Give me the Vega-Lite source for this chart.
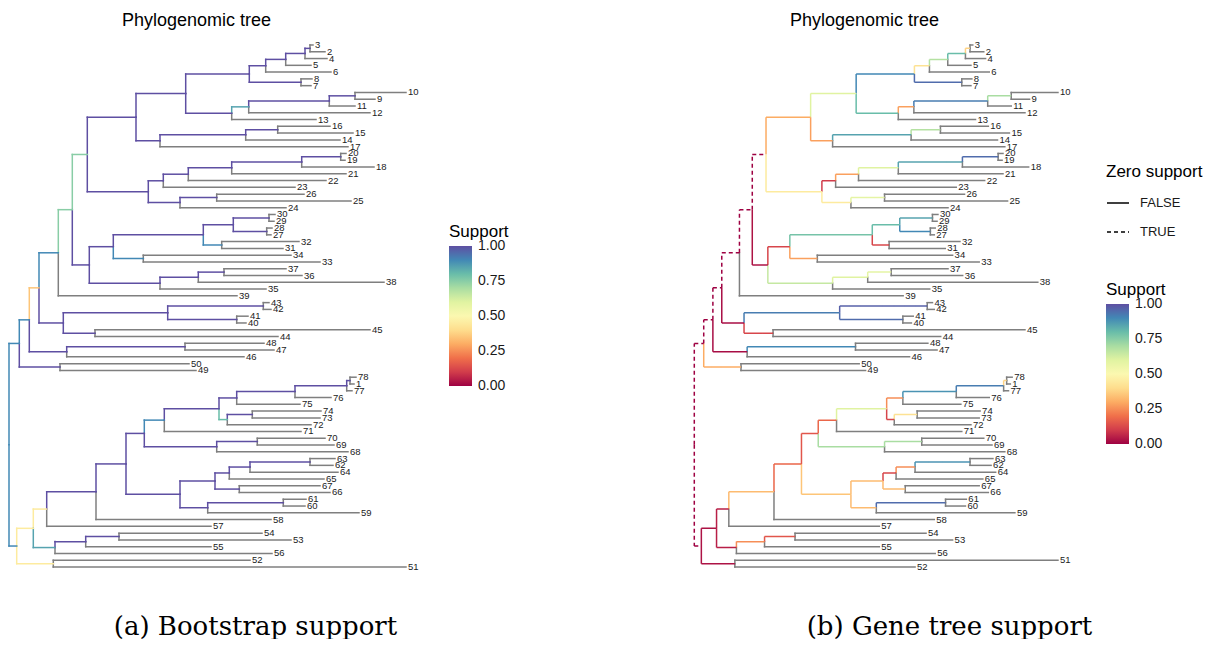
{
"$schema": "https://vega.github.io/schema/vega-lite/v6.json",
"padding": {"left": 0, "right": 0, "top": 12, "bottom": 0},
"config": {
  "view": {"stroke": null},
  "font": "Liberation Sans",
  "axisX": {"domain": false, "ticks": false, "labels": false, "grid": false, "titleFont": "DejaVu Serif", "titleFontSize": 26, "titleFontWeight": "normal", "titleColor": "#000000", "titlePadding": 37},
  "legend": {"titleFont": "Liberation Sans", "labelFont": "Liberation Sans", "titleFontWeight": "normal", "titleColor": "#000000", "labelColor": "#1a1a1a"}
},
"resolve": {"scale": {"color": "independent", "strokeDash": "independent", "x": "independent", "y": "independent"}, "legend": {"color": "independent", "strokeDash": "independent"}},
"datasets": {
"a": [
{"n":"nP","t":0,"x":10.3,"y":45.02,"px":0,"py":59.96,"s":0.9},
{"n":"nAA","t":0,"x":7.7,"y":74.9,"px":0,"py":59.96,"s":0.9},
{"n":"nN","t":0,"x":20.3,"y":41.54,"px":10.3,"py":45.02,"s":0.9},
{"n":"n5049","t":0,"x":51,"y":48.5,"px":10.3,"py":45.02,"s":1},
{"n":"nL","t":0,"x":30,"y":36.82,"px":20.3,"py":41.54,"s":0.35},
{"n":"nO","t":0,"x":57.7,"y":46.25,"px":20.3,"py":41.54,"s":1},
{"n":"nK","t":0,"x":49.3,"y":31.65,"px":30,"py":36.82,"s":0.9},
{"n":"nM","t":0,"x":54.3,"y":42,"px":30,"py":36.82,"s":1},
{"n":"nJ","t":0,"x":63.3,"y":25.29,"px":49.3,"py":31.65,"s":0.75},
{"n":"nE","t":0,"x":78.3,"y":17.15,"px":63.3,"py":25.29,"s":0.75},
{"n":"nF","t":0,"x":80.3,"y":33.44,"px":63.3,"py":25.29,"s":1},
{"n":"n136","t":0,"x":127,"y":11.65,"px":78.3,"py":17.15,"s":1},
{"n":"nD","t":0,"x":139.3,"y":22.64,"px":78.3,"py":17.15,"s":1},
{"n":"nAB","t":0,"x":176.7,"y":8.17,"px":127,"py":11.65,"s":1},
{"n":"nC","t":0,"x":151,"y":15.125,"px":127,"py":11.65,"s":1},
{"n":"nA","t":0,"x":240.3,"y":5.28,"px":176.7,"py":8.17,"s":1},
{"n":"nB","t":0,"x":222.7,"y":11.06,"px":176.7,"py":8.17,"s":1},
{"n":"n6","t":0,"x":256.7,"y":4.06,"px":240.3,"py":5.28,"s":1},
{"n":"n87","t":0,"x":292,"y":6.5,"px":240.3,"py":5.28,"s":1},
{"n":"n5","t":0,"x":276.7,"y":3.125,"px":256.7,"py":4.06,"s":1},
{"n":"n324","t":0,"x":296,"y":2.25,"px":276.7,"py":3.125,"s":1},
{"n":"n32","t":0,"x":301,"y":1.5,"px":296,"py":2.25,"s":1},
{"n":"n12","t":0,"x":239.7,"y":10.125,"px":222.7,"py":11.06,"s":0.85},
{"n":"n11","t":0,"x":320.3,"y":9.25,"px":239.7,"py":10.125,"s":1},
{"n":"n109","t":0,"x":346,"y":8.5,"px":320.3,"py":9.25,"s":1},
{"n":"n14","t":0,"x":236.7,"y":14.25,"px":151,"py":15.125,"s":1},
{"n":"n1615","t":0,"x":268.7,"y":13.5,"px":236.7,"py":14.25,"s":1},
{"n":"n23","t":0,"x":154.3,"y":21.03,"px":139.3,"py":22.64,"s":1},
{"n":"n24","t":0,"x":171,"y":24.25,"px":139.3,"py":22.64,"s":1},
{"n":"n22","t":0,"x":179.3,"y":20.06,"px":154.3,"py":21.03,"s":1},
{"n":"n21","t":0,"x":222.7,"y":19.125,"px":179.3,"py":20.06,"s":1},
{"n":"n18","t":0,"x":292.7,"y":18.25,"px":222.7,"py":19.125,"s":1},
{"n":"n2019","t":0,"x":331.7,"y":17.5,"px":292.7,"py":18.25,"s":1},
{"n":"n2625","t":0,"x":207.7,"y":23.5,"px":171,"py":24.25,"s":1},
{"n":"nH","t":0,"x":104.3,"y":30.75,"px":80.3,"py":33.44,"s":1},
{"n":"nI","t":0,"x":151,"y":36.125,"px":80.3,"py":33.44,"s":1},
{"n":"nG","t":0,"x":194.3,"y":29,"px":104.3,"py":30.75,"s":1},
{"n":"n3433","t":0,"x":134.3,"y":32.5,"px":104.3,"py":30.75,"s":0.9},
{"n":"n3027","t":0,"x":224.3,"y":27.5,"px":194.3,"py":29,"s":1},
{"n":"n3231","t":0,"x":212.7,"y":30.5,"px":194.3,"py":29,"s":0.9},
{"n":"n3029","t":0,"x":260,"y":26.5,"px":224.3,"py":27.5,"s":1},
{"n":"n2827","t":0,"x":257.7,"y":28.5,"px":224.3,"py":27.5,"s":1},
{"n":"n38","t":0,"x":189.3,"y":35.25,"px":151,"py":36.125,"s":1},
{"n":"n3736","t":0,"x":215,"y":34.5,"px":189.3,"py":35.25,"s":1},
{"n":"n4340","t":0,"x":158.7,"y":40.5,"px":54.3,"py":42,"s":1},
{"n":"n4544","t":0,"x":86,"y":43.5,"px":54.3,"py":42,"s":1},
{"n":"n4342","t":0,"x":254.3,"y":39.5,"px":158.7,"py":40.5,"s":1},
{"n":"n4140","t":0,"x":227.7,"y":41.5,"px":158.7,"py":40.5,"s":1},
{"n":"n4847","t":0,"x":176,"y":45.5,"px":57.7,"py":46.25,"s":1},
{"n":"nY","t":0,"x":24.3,"y":72.29,"px":7.7,"py":74.9,"s":0.45},
{"n":"n5251","t":0,"x":44.3,"y":77.5,"px":7.7,"py":74.9,"s":0.45},
{"n":"nX","t":0,"x":37.7,"y":69.45,"px":24.3,"py":72.29,"s":0.45},
{"n":"nZ","t":0,"x":46,"y":75.125,"px":24.3,"py":72.29,"s":0.85},
{"n":"nW","t":0,"x":87,"y":66.89,"px":37.7,"py":69.45,"s":1},
{"n":"n55","t":0,"x":76.7,"y":74.25,"px":46,"py":75.125,"s":1},
{"n":"n5453","t":0,"x":110,"y":73.5,"px":76.7,"py":74.25,"s":1},
{"n":"nV","t":0,"x":117,"y":62.79,"px":87,"py":66.89,"s":1},
{"n":"nS","t":0,"x":135.3,"y":58.29,"px":117,"py":62.79,"s":1},
{"n":"nU","t":0,"x":171,"y":67.28,"px":117,"py":62.79,"s":1},
{"n":"nR","t":0,"x":155.3,"y":56.33,"px":135.3,"py":58.29,"s":0.9},
{"n":"n68","t":0,"x":207.7,"y":60.25,"px":135.3,"py":58.29,"s":1},
{"n":"n7069","t":0,"x":248.3,"y":59.5,"px":207.7,"py":60.25,"s":1},
{"n":"nQ","t":0,"x":210,"y":54.66,"px":155.3,"py":56.33,"s":1},
{"n":"n75","t":0,"x":227.7,"y":53.06,"px":210,"py":54.66,"s":1},
{"n":"n72","t":0,"x":218.3,"y":56.25,"px":210,"py":54.66,"s":0.8},
{"n":"n7473","t":0,"x":243.3,"y":55.5,"px":218.3,"py":56.25,"s":1},
{"n":"n76","t":0,"x":286,"y":52.125,"px":227.7,"py":53.06,"s":1},
{"n":"n77","t":0,"x":337.7,"y":51.25,"px":286,"py":52.125,"s":1},
{"n":"n781","t":0,"x":341,"y":50.5,"px":337.7,"py":51.25,"s":1},
{"n":"nT","t":0,"x":206,"y":65.31,"px":171,"py":67.28,"s":1},
{"n":"n59","t":0,"x":198.7,"y":69.25,"px":171,"py":67.28,"s":1},
{"n":"n65","t":0,"x":220.3,"y":64.125,"px":206,"py":65.31,"s":1},
{"n":"n6766","t":0,"x":230.3,"y":66.5,"px":206,"py":65.31,"s":1},
{"n":"n64","t":0,"x":241,"y":63.25,"px":220.3,"py":64.125,"s":1},
{"n":"n6362","t":0,"x":301,"y":62.5,"px":241,"py":63.25,"s":1},
{"n":"n6160","t":0,"x":274.3,"y":68.5,"px":198.7,"py":69.25,"s":1},
{"n":"3","t":1,"x":304,"y":1,"px":301,"py":1.5},
{"n":"2","t":1,"x":316,"y":2,"px":301,"py":1.5},
{"n":"4","t":1,"x":318,"y":3,"px":296,"py":2.25},
{"n":"5","t":1,"x":302,"y":4,"px":276.7,"py":3.125},
{"n":"6","t":1,"x":322,"y":5,"px":256.7,"py":4.06},
{"n":"8","t":1,"x":303,"y":6,"px":292,"py":6.5},
{"n":"7","t":1,"x":302,"y":7,"px":292,"py":6.5},
{"n":"10","t":1,"x":397,"y":8,"px":346,"py":8.5},
{"n":"9","t":1,"x":366,"y":9,"px":346,"py":8.5},
{"n":"11","t":1,"x":346,"y":10,"px":320.3,"py":9.25},
{"n":"12","t":1,"x":361,"y":11,"px":239.7,"py":10.125},
{"n":"13","t":1,"x":307,"y":12,"px":222.7,"py":11.06},
{"n":"16","t":1,"x":321,"y":13,"px":268.7,"py":13.5},
{"n":"15","t":1,"x":344,"y":14,"px":268.7,"py":13.5},
{"n":"14","t":1,"x":331,"y":15,"px":236.7,"py":14.25},
{"n":"17","t":1,"x":339,"y":16,"px":151,"py":15.125},
{"n":"20","t":1,"x":337,"y":17,"px":331.7,"py":17.5},
{"n":"19","t":1,"x":336,"y":18,"px":331.7,"py":17.5},
{"n":"18","t":1,"x":365,"y":19,"px":292.7,"py":18.25},
{"n":"21","t":1,"x":337,"y":20,"px":222.7,"py":19.125},
{"n":"22","t":1,"x":317,"y":21,"px":179.3,"py":20.06},
{"n":"23","t":1,"x":286,"y":22,"px":154.3,"py":21.03},
{"n":"26","t":1,"x":295,"y":23,"px":207.7,"py":23.5},
{"n":"25","t":1,"x":342,"y":24,"px":207.7,"py":23.5},
{"n":"24","t":1,"x":277,"y":25,"px":171,"py":24.25},
{"n":"30","t":1,"x":266,"y":26,"px":260,"py":26.5},
{"n":"29","t":1,"x":265,"y":27,"px":260,"py":26.5},
{"n":"28","t":1,"x":263,"y":28,"px":257.7,"py":28.5},
{"n":"27","t":1,"x":262,"y":29,"px":257.7,"py":28.5},
{"n":"32","t":1,"x":290,"y":30,"px":212.7,"py":30.5},
{"n":"31","t":1,"x":274,"y":31,"px":212.7,"py":30.5},
{"n":"34","t":1,"x":282,"y":32,"px":134.3,"py":32.5},
{"n":"33","t":1,"x":311,"y":33,"px":134.3,"py":32.5},
{"n":"37","t":1,"x":277,"y":34,"px":215,"py":34.5},
{"n":"36","t":1,"x":293,"y":35,"px":215,"py":34.5},
{"n":"38","t":1,"x":375,"y":36,"px":189.3,"py":35.25},
{"n":"35","t":1,"x":257,"y":37,"px":151,"py":36.125},
{"n":"39","t":1,"x":228,"y":38,"px":49.3,"py":31.65},
{"n":"43","t":1,"x":260,"y":39,"px":254.3,"py":39.5},
{"n":"42","t":1,"x":262,"y":40,"px":254.3,"py":39.5},
{"n":"41","t":1,"x":239,"y":41,"px":227.7,"py":41.5},
{"n":"40","t":1,"x":237,"y":42,"px":227.7,"py":41.5},
{"n":"45","t":1,"x":361,"y":43,"px":86,"py":43.5},
{"n":"44","t":1,"x":269,"y":44,"px":86,"py":43.5},
{"n":"48","t":1,"x":255,"y":45,"px":176,"py":45.5},
{"n":"47","t":1,"x":265,"y":46,"px":176,"py":45.5},
{"n":"46","t":1,"x":235,"y":47,"px":57.7,"py":46.25},
{"n":"50","t":1,"x":180,"y":48,"px":51,"py":48.5},
{"n":"49","t":1,"x":187,"y":49,"px":51,"py":48.5},
{"n":"78","t":1,"x":347,"y":50,"px":341,"py":50.5},
{"n":"1","t":1,"x":345,"y":51,"px":341,"py":50.5},
{"n":"77","t":1,"x":343,"y":52,"px":337.7,"py":51.25},
{"n":"76","t":1,"x":322,"y":53,"px":286,"py":52.125},
{"n":"75","t":1,"x":291,"y":54,"px":227.7,"py":53.06},
{"n":"74","t":1,"x":312,"y":55,"px":243.3,"py":55.5},
{"n":"73","t":1,"x":311,"y":56,"px":243.3,"py":55.5},
{"n":"72","t":1,"x":302,"y":57,"px":218.3,"py":56.25},
{"n":"71","t":1,"x":292,"y":58,"px":155.3,"py":56.33},
{"n":"70","t":1,"x":316,"y":59,"px":248.3,"py":59.5},
{"n":"69","t":1,"x":325,"y":60,"px":248.3,"py":59.5},
{"n":"68","t":1,"x":339,"y":61,"px":207.7,"py":60.25},
{"n":"63","t":1,"x":326,"y":62,"px":301,"py":62.5},
{"n":"62","t":1,"x":324,"y":63,"px":301,"py":62.5},
{"n":"64","t":1,"x":329,"y":64,"px":241,"py":63.25},
{"n":"65","t":1,"x":315,"y":65,"px":220.3,"py":64.125},
{"n":"67","t":1,"x":311,"y":66,"px":230.3,"py":66.5},
{"n":"66","t":1,"x":321,"y":67,"px":230.3,"py":66.5},
{"n":"61","t":1,"x":297,"y":68,"px":274.3,"py":68.5},
{"n":"60","t":1,"x":296,"y":69,"px":274.3,"py":68.5},
{"n":"59","t":1,"x":350,"y":70,"px":198.7,"py":69.25},
{"n":"58","t":1,"x":262,"y":71,"px":87,"py":66.89},
{"n":"57","t":1,"x":202,"y":72,"px":37.7,"py":69.45},
{"n":"54","t":1,"x":253,"y":73,"px":110,"py":73.5},
{"n":"53","t":1,"x":282,"y":74,"px":110,"py":73.5},
{"n":"55","t":1,"x":202,"y":75,"px":76.7,"py":74.25},
{"n":"56","t":1,"x":263,"y":76,"px":46,"py":75.125},
{"n":"52","t":1,"x":241,"y":77,"px":44.3,"py":77.5},
{"n":"51","t":1,"x":397,"y":78,"px":44.3,"py":77.5}
],
"b": [
{"n":"nP","t":0,"x":10.3,"y":45.02,"px":0,"py":59.96,"s":0,"z":"TRUE"},
{"n":"nAA","t":0,"x":7.7,"y":74.9,"px":0,"py":59.96,"s":0,"z":"TRUE"},
{"n":"nN","t":0,"x":20.3,"y":41.54,"px":10.3,"py":45.02,"s":0,"z":"TRUE"},
{"n":"n5049","t":0,"x":51,"y":48.5,"px":10.3,"py":45.02,"s":0.3,"z":"FALSE"},
{"n":"nL","t":0,"x":30,"y":36.82,"px":20.3,"py":41.54,"s":0,"z":"TRUE"},
{"n":"nO","t":0,"x":57.7,"y":46.25,"px":20.3,"py":41.54,"s":0.02,"z":"FALSE"},
{"n":"nK","t":0,"x":49.3,"y":31.65,"px":30,"py":36.82,"s":0,"z":"TRUE"},
{"n":"nM","t":0,"x":54.3,"y":42,"px":30,"py":36.82,"s":0.02,"z":"FALSE"},
{"n":"nJ","t":0,"x":63.3,"y":25.29,"px":49.3,"py":31.65,"s":0,"z":"TRUE"},
{"n":"nE","t":0,"x":78.3,"y":17.15,"px":63.3,"py":25.29,"s":0,"z":"TRUE"},
{"n":"nF","t":0,"x":80.3,"y":33.44,"px":63.3,"py":25.29,"s":0.03,"z":"FALSE"},
{"n":"n136","t":0,"x":127,"y":11.65,"px":78.3,"py":17.15,"s":0.3,"z":"FALSE"},
{"n":"nD","t":0,"x":139.3,"y":22.64,"px":78.3,"py":17.15,"s":0.45,"z":"FALSE"},
{"n":"nAB","t":0,"x":176.7,"y":8.17,"px":127,"py":11.65,"s":0.6,"z":"FALSE"},
{"n":"nC","t":0,"x":151,"y":15.125,"px":127,"py":11.65,"s":0.28,"z":"FALSE"},
{"n":"nA","t":0,"x":240.3,"y":5.28,"px":176.7,"py":8.17,"s":0.9,"z":"FALSE"},
{"n":"nB","t":0,"x":222.7,"y":11.06,"px":176.7,"py":8.17,"s":0.8,"z":"FALSE"},
{"n":"n6","t":0,"x":256.7,"y":4.06,"px":240.3,"py":5.28,"s":0.42,"z":"FALSE"},
{"n":"n87","t":0,"x":292,"y":6.5,"px":240.3,"py":5.28,"s":0.95,"z":"FALSE"},
{"n":"n5","t":0,"x":276.7,"y":3.125,"px":256.7,"py":4.06,"s":0.68,"z":"FALSE"},
{"n":"n324","t":0,"x":296,"y":2.25,"px":276.7,"py":3.125,"s":0.8,"z":"FALSE"},
{"n":"n32","t":0,"x":301,"y":1.5,"px":296,"py":2.25,"s":0.38,"z":"FALSE"},
{"n":"n12","t":0,"x":239.7,"y":10.125,"px":222.7,"py":11.06,"s":0.28,"z":"FALSE"},
{"n":"n11","t":0,"x":320.3,"y":9.25,"px":239.7,"py":10.125,"s":0.92,"z":"FALSE"},
{"n":"n109","t":0,"x":346,"y":8.5,"px":320.3,"py":9.25,"s":0.7,"z":"FALSE"},
{"n":"n14","t":0,"x":236.7,"y":14.25,"px":151,"py":15.125,"s":0.85,"z":"FALSE"},
{"n":"n1615","t":0,"x":268.7,"y":13.5,"px":236.7,"py":14.25,"s":0.68,"z":"FALSE"},
{"n":"n23","t":0,"x":154.3,"y":21.03,"px":139.3,"py":22.64,"s":0.1,"z":"FALSE"},
{"n":"n24","t":0,"x":171,"y":24.25,"px":139.3,"py":22.64,"s":0.45,"z":"FALSE"},
{"n":"n22","t":0,"x":179.3,"y":20.06,"px":154.3,"py":21.03,"s":0.28,"z":"FALSE"},
{"n":"n21","t":0,"x":222.7,"y":19.125,"px":179.3,"py":20.06,"s":0.6,"z":"FALSE"},
{"n":"n18","t":0,"x":292.7,"y":18.25,"px":222.7,"py":19.125,"s":0.85,"z":"FALSE"},
{"n":"n2019","t":0,"x":331.7,"y":17.5,"px":292.7,"py":18.25,"s":0.95,"z":"FALSE"},
{"n":"n2625","t":0,"x":207.7,"y":23.5,"px":171,"py":24.25,"s":0.58,"z":"FALSE"},
{"n":"nH","t":0,"x":104.3,"y":30.75,"px":80.3,"py":33.44,"s":0.12,"z":"FALSE"},
{"n":"nI","t":0,"x":151,"y":36.125,"px":80.3,"py":33.44,"s":0.65,"z":"FALSE"},
{"n":"nG","t":0,"x":194.3,"y":29,"px":104.3,"py":30.75,"s":0.78,"z":"FALSE"},
{"n":"n3433","t":0,"x":134.3,"y":32.5,"px":104.3,"py":30.75,"s":0.28,"z":"FALSE"},
{"n":"n3027","t":0,"x":224.3,"y":27.5,"px":194.3,"py":29,"s":0.8,"z":"FALSE"},
{"n":"n3231","t":0,"x":212.7,"y":30.5,"px":194.3,"py":29,"s":0.12,"z":"FALSE"},
{"n":"n3029","t":0,"x":260,"y":26.5,"px":224.3,"py":27.5,"s":0.85,"z":"FALSE"},
{"n":"n2827","t":0,"x":257.7,"y":28.5,"px":224.3,"py":27.5,"s":0.9,"z":"FALSE"},
{"n":"n38","t":0,"x":189.3,"y":35.25,"px":151,"py":36.125,"s":0.6,"z":"FALSE"},
{"n":"n3736","t":0,"x":215,"y":34.5,"px":189.3,"py":35.25,"s":0.58,"z":"FALSE"},
{"n":"n4340","t":0,"x":158.7,"y":40.5,"px":54.3,"py":42,"s":0.92,"z":"FALSE"},
{"n":"n4544","t":0,"x":86,"y":43.5,"px":54.3,"py":42,"s":0.12,"z":"FALSE"},
{"n":"n4342","t":0,"x":254.3,"y":39.5,"px":158.7,"py":40.5,"s":0.97,"z":"FALSE"},
{"n":"n4140","t":0,"x":227.7,"y":41.5,"px":158.7,"py":40.5,"s":0.95,"z":"FALSE"},
{"n":"n4847","t":0,"x":176,"y":45.5,"px":57.7,"py":46.25,"s":0.9,"z":"FALSE"},
{"n":"nY","t":0,"x":24.3,"y":72.29,"px":7.7,"py":74.9,"s":0.03,"z":"FALSE"},
{"n":"n5251","t":0,"x":44.3,"y":77.5,"px":7.7,"py":74.9,"s":0.03,"z":"FALSE"},
{"n":"nX","t":0,"x":37.7,"y":69.45,"px":24.3,"py":72.29,"s":0.05,"z":"FALSE"},
{"n":"nZ","t":0,"x":46,"y":75.125,"px":24.3,"py":72.29,"s":0.05,"z":"FALSE"},
{"n":"nW","t":0,"x":87,"y":66.89,"px":37.7,"py":69.45,"s":0.33,"z":"FALSE"},
{"n":"n55","t":0,"x":76.7,"y":74.25,"px":46,"py":75.125,"s":0.25,"z":"FALSE"},
{"n":"n5453","t":0,"x":110,"y":73.5,"px":76.7,"py":74.25,"s":0.15,"z":"FALSE"},
{"n":"nV","t":0,"x":117,"y":62.79,"px":87,"py":66.89,"s":0.18,"z":"FALSE"},
{"n":"nS","t":0,"x":135.3,"y":58.29,"px":117,"py":62.79,"s":0.15,"z":"FALSE"},
{"n":"nU","t":0,"x":171,"y":67.28,"px":117,"py":62.79,"s":0.35,"z":"FALSE"},
{"n":"nR","t":0,"x":155.3,"y":56.33,"px":135.3,"py":58.29,"s":0.18,"z":"FALSE"},
{"n":"n68","t":0,"x":207.7,"y":60.25,"px":135.3,"py":58.29,"s":0.7,"z":"FALSE"},
{"n":"n7069","t":0,"x":248.3,"y":59.5,"px":207.7,"py":60.25,"s":0.7,"z":"FALSE"},
{"n":"nQ","t":0,"x":210,"y":54.66,"px":155.3,"py":56.33,"s":0.6,"z":"FALSE"},
{"n":"n75","t":0,"x":227.7,"y":53.06,"px":210,"py":54.66,"s":0.25,"z":"FALSE"},
{"n":"n72","t":0,"x":218.3,"y":56.25,"px":210,"py":54.66,"s":0.12,"z":"FALSE"},
{"n":"n7473","t":0,"x":243.3,"y":55.5,"px":218.3,"py":56.25,"s":0.42,"z":"FALSE"},
{"n":"n76","t":0,"x":286,"y":52.125,"px":227.7,"py":53.06,"s":0.88,"z":"FALSE"},
{"n":"n77","t":0,"x":337.7,"y":51.25,"px":286,"py":52.125,"s":0.92,"z":"FALSE"},
{"n":"n781","t":0,"x":341,"y":50.5,"px":337.7,"py":51.25,"s":0.38,"z":"FALSE"},
{"n":"nT","t":0,"x":206,"y":65.31,"px":171,"py":67.28,"s":0.33,"z":"FALSE"},
{"n":"n59","t":0,"x":198.7,"y":69.25,"px":171,"py":67.28,"s":0.33,"z":"FALSE"},
{"n":"n65","t":0,"x":220.3,"y":64.125,"px":206,"py":65.31,"s":0.12,"z":"FALSE"},
{"n":"n6766","t":0,"x":230.3,"y":66.5,"px":206,"py":65.31,"s":0.33,"z":"FALSE"},
{"n":"n64","t":0,"x":241,"y":63.25,"px":220.3,"py":64.125,"s":0.25,"z":"FALSE"},
{"n":"n6362","t":0,"x":301,"y":62.5,"px":241,"py":63.25,"s":0.88,"z":"FALSE"},
{"n":"n6160","t":0,"x":274.3,"y":68.5,"px":198.7,"py":69.25,"s":0.95,"z":"FALSE"},
{"n":"3","t":1,"x":304,"y":1,"px":301,"py":1.5},
{"n":"2","t":1,"x":316,"y":2,"px":301,"py":1.5},
{"n":"4","t":1,"x":318,"y":3,"px":296,"py":2.25},
{"n":"5","t":1,"x":302,"y":4,"px":276.7,"py":3.125},
{"n":"6","t":1,"x":322,"y":5,"px":256.7,"py":4.06},
{"n":"8","t":1,"x":303,"y":6,"px":292,"py":6.5},
{"n":"7","t":1,"x":302,"y":7,"px":292,"py":6.5},
{"n":"10","t":1,"x":397,"y":8,"px":346,"py":8.5},
{"n":"9","t":1,"x":366,"y":9,"px":346,"py":8.5},
{"n":"11","t":1,"x":346,"y":10,"px":320.3,"py":9.25},
{"n":"12","t":1,"x":361,"y":11,"px":239.7,"py":10.125},
{"n":"13","t":1,"x":307,"y":12,"px":222.7,"py":11.06},
{"n":"16","t":1,"x":321,"y":13,"px":268.7,"py":13.5},
{"n":"15","t":1,"x":344,"y":14,"px":268.7,"py":13.5},
{"n":"14","t":1,"x":331,"y":15,"px":236.7,"py":14.25},
{"n":"17","t":1,"x":339,"y":16,"px":151,"py":15.125},
{"n":"20","t":1,"x":337,"y":17,"px":331.7,"py":17.5},
{"n":"19","t":1,"x":336,"y":18,"px":331.7,"py":17.5},
{"n":"18","t":1,"x":365,"y":19,"px":292.7,"py":18.25},
{"n":"21","t":1,"x":337,"y":20,"px":222.7,"py":19.125},
{"n":"22","t":1,"x":317,"y":21,"px":179.3,"py":20.06},
{"n":"23","t":1,"x":286,"y":22,"px":154.3,"py":21.03},
{"n":"26","t":1,"x":295,"y":23,"px":207.7,"py":23.5},
{"n":"25","t":1,"x":342,"y":24,"px":207.7,"py":23.5},
{"n":"24","t":1,"x":277,"y":25,"px":171,"py":24.25},
{"n":"30","t":1,"x":266,"y":26,"px":260,"py":26.5},
{"n":"29","t":1,"x":265,"y":27,"px":260,"py":26.5},
{"n":"28","t":1,"x":263,"y":28,"px":257.7,"py":28.5},
{"n":"27","t":1,"x":262,"y":29,"px":257.7,"py":28.5},
{"n":"32","t":1,"x":290,"y":30,"px":212.7,"py":30.5},
{"n":"31","t":1,"x":274,"y":31,"px":212.7,"py":30.5},
{"n":"34","t":1,"x":282,"y":32,"px":134.3,"py":32.5},
{"n":"33","t":1,"x":311,"y":33,"px":134.3,"py":32.5},
{"n":"37","t":1,"x":277,"y":34,"px":215,"py":34.5},
{"n":"36","t":1,"x":293,"y":35,"px":215,"py":34.5},
{"n":"38","t":1,"x":375,"y":36,"px":189.3,"py":35.25},
{"n":"35","t":1,"x":257,"y":37,"px":151,"py":36.125},
{"n":"39","t":1,"x":228,"y":38,"px":49.3,"py":31.65},
{"n":"43","t":1,"x":260,"y":39,"px":254.3,"py":39.5},
{"n":"42","t":1,"x":262,"y":40,"px":254.3,"py":39.5},
{"n":"41","t":1,"x":239,"y":41,"px":227.7,"py":41.5},
{"n":"40","t":1,"x":237,"y":42,"px":227.7,"py":41.5},
{"n":"45","t":1,"x":361,"y":43,"px":86,"py":43.5},
{"n":"44","t":1,"x":269,"y":44,"px":86,"py":43.5},
{"n":"48","t":1,"x":255,"y":45,"px":176,"py":45.5},
{"n":"47","t":1,"x":265,"y":46,"px":176,"py":45.5},
{"n":"46","t":1,"x":235,"y":47,"px":57.7,"py":46.25},
{"n":"50","t":1,"x":180,"y":48,"px":51,"py":48.5},
{"n":"49","t":1,"x":187,"y":49,"px":51,"py":48.5},
{"n":"78","t":1,"x":347,"y":50,"px":341,"py":50.5},
{"n":"1","t":1,"x":345,"y":51,"px":341,"py":50.5},
{"n":"77","t":1,"x":343,"y":52,"px":337.7,"py":51.25},
{"n":"76","t":1,"x":322,"y":53,"px":286,"py":52.125},
{"n":"75","t":1,"x":291,"y":54,"px":227.7,"py":53.06},
{"n":"74","t":1,"x":312,"y":55,"px":243.3,"py":55.5},
{"n":"73","t":1,"x":311,"y":56,"px":243.3,"py":55.5},
{"n":"72","t":1,"x":302,"y":57,"px":218.3,"py":56.25},
{"n":"71","t":1,"x":292,"y":58,"px":155.3,"py":56.33},
{"n":"70","t":1,"x":316,"y":59,"px":248.3,"py":59.5},
{"n":"69","t":1,"x":325,"y":60,"px":248.3,"py":59.5},
{"n":"68","t":1,"x":339,"y":61,"px":207.7,"py":60.25},
{"n":"63","t":1,"x":326,"y":62,"px":301,"py":62.5},
{"n":"62","t":1,"x":324,"y":63,"px":301,"py":62.5},
{"n":"64","t":1,"x":329,"y":64,"px":241,"py":63.25},
{"n":"65","t":1,"x":315,"y":65,"px":220.3,"py":64.125},
{"n":"67","t":1,"x":311,"y":66,"px":230.3,"py":66.5},
{"n":"66","t":1,"x":321,"y":67,"px":230.3,"py":66.5},
{"n":"61","t":1,"x":297,"y":68,"px":274.3,"py":68.5},
{"n":"60","t":1,"x":296,"y":69,"px":274.3,"py":68.5},
{"n":"59","t":1,"x":350,"y":70,"px":198.7,"py":69.25},
{"n":"58","t":1,"x":262,"y":71,"px":87,"py":66.89},
{"n":"57","t":1,"x":202,"y":72,"px":37.7,"py":69.45},
{"n":"54","t":1,"x":253,"y":73,"px":110,"py":73.5},
{"n":"53","t":1,"x":282,"y":74,"px":110,"py":73.5},
{"n":"55","t":1,"x":202,"y":75,"px":76.7,"py":74.25},
{"n":"56","t":1,"x":263,"y":76,"px":46,"py":75.125},
{"n":"51","t":1,"x":397,"y":77,"px":44.3,"py":77.5},
{"n":"52","t":1,"x":241,"y":78,"px":44.3,"py":77.5}
]
},
"hconcat": [
{
  "width": 510, "height": 542,
  "title": {"text": "Phylogenomic tree", "anchor": "start", "dx": 122, "fontSize": 18, "fontWeight": "normal", "font": "Liberation Sans", "color": "#000000", "offset": 4},
  "data": {"name": "a"},
  "layer": [
    {"transform": [{"filter": "datum.t == 1"}],
     "mark": {"type": "rule", "color": "#7f7f7f", "strokeWidth": 1.5, "strokeCap": "square"},
     "encoding": {
       "x": {"field": "px", "type": "quantitative", "scale": {"domain": [-9, 501], "nice": false, "zero": false}, "title": "(a) Bootstrap support"},
       "y": {"field": "py", "type": "quantitative", "scale": {"domain": [-0.62, 79.32], "reverse": true, "nice": false, "zero": false}, "axis": null},
       "y2": {"field": "y"}}},
    {"transform": [{"filter": "datum.t == 1"}],
     "mark": {"type": "rule", "color": "#7f7f7f", "strokeWidth": 1.5, "strokeCap": "square"},
     "encoding": {
       "x": {"field": "px", "type": "quantitative", "title": "(a) Bootstrap support"},
       "x2": {"field": "x"},
       "y": {"field": "y", "type": "quantitative", "axis": null}}},
    {"transform": [{"filter": "datum.t == 0"}],
     "mark": {"type": "rule", "strokeWidth": 1.5, "strokeCap": "square"},
     "encoding": {
       "x": {"field": "px", "type": "quantitative", "title": "(a) Bootstrap support"},
       "y": {"field": "py", "type": "quantitative", "axis": null},
       "y2": {"field": "y"},
       "color": {"field": "s", "type": "quantitative", "scale": {"scheme": "spectral", "domain": [0, 1]},
         "legend": {"title": "Support", "orient": "none", "legendX": 449, "legendY": 190, "direction": "vertical", "gradientLength": 140, "gradientThickness": 23, "values": [0, 0.25, 0.5, 0.75, 1], "format": ".2f", "titleFontSize": 17, "labelFontSize": 14, "titlePadding": 5, "labelOffset": 6, "labelOverlap": false, "gradientStrokeWidth": 0,
           "encode": {"labels": {"enter": {"baseline": {"value": "middle"}}, "update": {"baseline": {"value": "middle"}}}}}}}},
    {"transform": [{"filter": "datum.t == 0"}],
     "mark": {"type": "rule", "strokeWidth": 1.5, "strokeCap": "square"},
     "encoding": {
       "x": {"field": "px", "type": "quantitative", "title": "(a) Bootstrap support"},
       "x2": {"field": "x"},
       "y": {"field": "y", "type": "quantitative", "axis": null},
       "color": {"field": "s", "type": "quantitative"}}},
    {"transform": [{"filter": "datum.t == 1"}],
     "mark": {"type": "text", "align": "left", "baseline": "middle", "dx": 2, "fontSize": 9.5, "color": "#222222"},
     "encoding": {
       "x": {"field": "x", "type": "quantitative", "title": "(a) Bootstrap support"},
       "y": {"field": "y", "type": "quantitative", "axis": null},
       "text": {"field": "n"}}}
  ]
},
{
  "width": 538, "height": 542,
  "title": {"text": "Phylogenomic tree", "anchor": "start", "dx": 110, "fontSize": 18, "fontWeight": "normal", "font": "Liberation Sans", "color": "#000000", "offset": 4},
  "data": {"name": "b"},
  "layer": [
    {"transform": [{"filter": "datum.t == 1"}],
     "mark": {"type": "rule", "color": "#7f7f7f", "strokeWidth": 1.5, "strokeCap": "square"},
     "encoding": {
       "x": {"field": "px", "type": "quantitative", "scale": {"domain": [-15.6, 571.7], "nice": false, "zero": false}, "title": "(b) Gene tree support"},
       "y": {"field": "py", "type": "quantitative", "scale": {"domain": [-0.62, 79.32], "reverse": true, "nice": false, "zero": false}, "axis": null},
       "y2": {"field": "y"}}},
    {"transform": [{"filter": "datum.t == 1"}],
     "mark": {"type": "rule", "color": "#7f7f7f", "strokeWidth": 1.5, "strokeCap": "square"},
     "encoding": {
       "x": {"field": "px", "type": "quantitative", "title": "(b) Gene tree support"},
       "x2": {"field": "x"},
       "y": {"field": "y", "type": "quantitative", "axis": null}}},
    {"transform": [{"filter": "datum.t == 0"}],
     "mark": {"type": "rule", "strokeWidth": 1.5},
     "encoding": {
       "x": {"field": "px", "type": "quantitative", "title": "(b) Gene tree support"},
       "y": {"field": "py", "type": "quantitative", "axis": null},
       "y2": {"field": "y"},
       "strokeDash": {"field": "z", "type": "nominal", "scale": {"domain": ["FALSE", "TRUE"], "range": [[1, 0], [4, 3]]},
         "legend": {"title": "Zero support", "orient": "none", "legendX": 426, "legendY": 130, "symbolType": "stroke", "symbolSize": 484, "symbolStrokeColor": "#000000", "symbolStrokeWidth": 1.5, "titleFontSize": 17, "labelFontSize": 13, "titlePadding": 10, "rowPadding": 10, "labelOffset": 10,
           "encode": {"symbols": {"update": {"size": {"value": 484}, "stroke": {"value": "#000000"}, "strokeWidth": {"value": 1.5}}}}}},
       "color": {"field": "s", "type": "quantitative", "scale": {"scheme": "spectral", "domain": [0, 1]},
         "legend": {"title": "Support", "orient": "none", "legendX": 426, "legendY": 248, "direction": "vertical", "gradientLength": 140, "gradientThickness": 23, "values": [0, 0.25, 0.5, 0.75, 1], "format": ".2f", "titleFontSize": 17, "labelFontSize": 14, "titlePadding": 5, "labelOffset": 6, "labelOverlap": false, "gradientStrokeWidth": 0,
           "encode": {"labels": {"enter": {"baseline": {"value": "middle"}}, "update": {"baseline": {"value": "middle"}}}}}}}},
    {"transform": [{"filter": "datum.t == 0"}],
     "mark": {"type": "rule", "strokeWidth": 1.5},
     "encoding": {
       "x": {"field": "px", "type": "quantitative", "title": "(b) Gene tree support"},
       "x2": {"field": "x"},
       "y": {"field": "y", "type": "quantitative", "axis": null},
       "strokeDash": {"field": "z", "type": "nominal"},
       "color": {"field": "s", "type": "quantitative"}}},
    {"transform": [{"filter": "datum.t == 1"}],
     "mark": {"type": "text", "align": "left", "baseline": "middle", "dx": 2, "fontSize": 9.5, "color": "#222222"},
     "encoding": {
       "x": {"field": "x", "type": "quantitative", "title": "(b) Gene tree support"},
       "y": {"field": "y", "type": "quantitative", "axis": null},
       "text": {"field": "n"}}}
  ]
}
],
"spacing": 170
}
